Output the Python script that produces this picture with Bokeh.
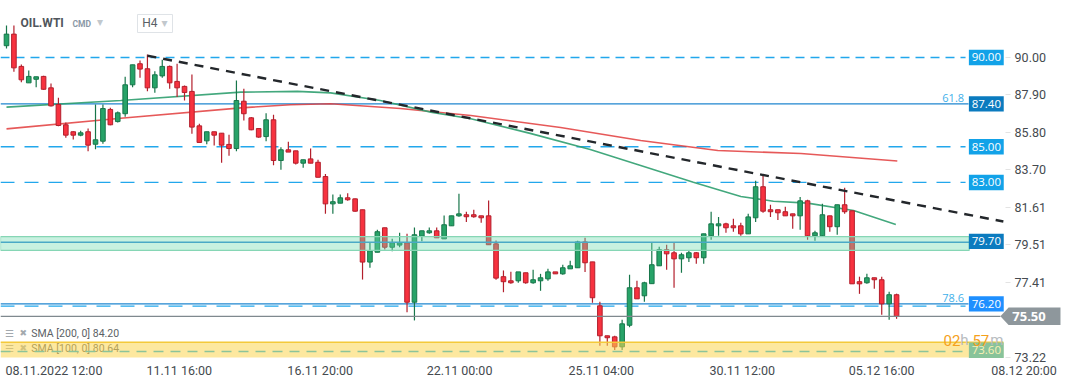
from bokeh.plotting import figure
from bokeh.models import ColumnDataSource, Range1d, FixedTicker, NumeralTickFormatter
from bokeh.embed import file_html
from bokeh.resources import INLINE
from bokeh.core.properties import value

# ---------------- data (OIL.WTI, H4 candles) ----------------
opens = [90.66, 91.31, 89.50, 88.58, 88.78, 88.94, 88.30, 87.37, 86.23, 85.84,
         85.65, 85.84, 85.14, 85.31, 87.09, 86.41, 86.85, 88.47, 89.65, 89.37,
         88.30, 88.97, 89.50, 88.66, 88.38, 88.10, 86.17, 85.33, 85.84, 85.76,
         85.13, 84.90, 87.55, 86.62, 86.02, 85.57, 86.51, 84.23, 84.83, 84.77,
         84.08, 84.32, 84.13, 83.33, 81.80, 81.84, 82.14, 82.08, 81.47, 78.54,
         79.09, 80.46, 79.37, 79.49, 79.62, 76.29, 79.99, 80.18, 80.29, 79.84,
         80.57, 81.13, 81.19, 81.19, 81.13, 81.13, 79.56, 77.72, 77.49, 77.49,
         77.94, 77.38, 77.49, 77.60, 77.99, 77.88, 78.16, 78.22, 79.67, 78.55,
         76.09, 74.41, 74.35, 73.79, 75.00, 77.10, 76.65, 77.33, 78.33, 79.23,
         79.06, 78.72, 78.78, 79.06, 78.78, 80.01, 80.57, 80.68, 80.57, 80.57,
         80.12, 81.02, 82.76, 81.47, 81.47, 81.36, 81.24, 81.13, 81.97, 80.01,
         80.01, 81.13, 80.52, 81.75, 81.41, 77.44, 77.38, 77.66, 77.55, 76.20,
         76.71]
highs = [91.79, 91.79, 89.61, 89.27, 88.92, 88.98, 88.54, 87.74, 86.36, 85.87,
         85.89, 86.02, 87.37, 87.37, 87.18, 86.97, 88.92, 89.59, 89.83, 90.17,
         89.23, 89.87, 89.55, 89.65, 88.43, 89.05, 86.29, 85.84, 85.84, 85.76,
         85.67, 88.71, 88.25, 86.66, 86.05, 86.88, 86.79, 84.97, 85.28, 84.77,
         84.27, 84.90, 84.27, 83.48, 82.33, 82.33, 82.40, 82.10, 81.47, 79.67,
         80.35, 80.46, 79.84, 80.18, 80.12, 80.48, 80.29, 80.48, 80.48, 81.15,
         81.13, 82.36, 81.36, 81.47, 81.13, 81.99, 79.75, 78.07, 78.00, 77.99,
         77.94, 78.11, 77.88, 78.16, 77.99, 78.39, 78.61, 79.73, 79.90, 78.55,
         76.31, 74.41, 74.41, 75.31, 77.83, 77.49, 77.44, 79.62, 79.40, 79.51,
         79.62, 79.06, 79.17, 79.10, 80.12, 81.36, 81.07, 80.74, 80.96, 80.74,
         81.24, 83.09, 83.43, 81.75, 81.47, 81.64, 81.24, 82.19, 82.03, 80.29,
         81.80, 81.13, 81.75, 82.70, 81.41, 77.72, 77.88, 77.66, 77.72, 76.88,
         76.77]
lows = [90.50, 89.20, 88.62, 88.58, 88.34, 88.19, 87.25, 86.15, 85.50, 85.41,
        85.59, 84.75, 84.86, 85.17, 86.20, 86.36, 86.68, 88.34, 88.86, 88.11,
        88.02, 88.86, 88.25, 87.78, 87.59, 85.73, 85.24, 85.14, 85.07, 84.10,
        84.49, 84.75, 86.47, 85.92, 85.50, 85.31, 83.97, 83.71, 84.70, 84.01,
        83.82, 84.08, 83.29, 81.24, 81.24, 81.84, 81.97, 81.36, 77.56, 78.22,
        79.09, 79.24, 79.15, 79.37, 75.73, 75.27, 79.71, 80.12, 79.90, 79.84,
        80.57, 81.08, 80.79, 81.02, 80.74, 79.51, 77.55, 76.85, 77.32, 77.38,
        77.32, 77.32, 76.93, 77.49, 77.88, 77.83, 78.16, 78.22, 77.99, 76.26,
        73.85, 73.85, 73.62, 73.62, 74.89, 76.48, 76.31, 77.33, 78.33, 78.11,
        77.10, 77.94, 78.55, 78.44, 78.44, 79.79, 80.01, 80.18, 80.24, 80.01,
        80.12, 80.79, 81.30, 81.07, 80.90, 81.13, 80.40, 80.35, 79.79, 79.73,
        80.01, 80.24, 80.07, 81.24, 77.32, 76.76, 77.32, 77.04, 75.59, 75.31,
        75.36]
closes = [91.31, 89.42, 88.75, 88.94, 88.92, 88.22, 87.29, 86.19, 85.65, 85.65,
          85.78, 85.09, 85.39, 87.14, 86.23, 86.90, 88.47, 89.59, 89.35, 88.30,
          89.03, 89.50, 88.58, 88.30, 88.04, 86.10, 85.24, 85.84, 85.65, 85.09,
          84.90, 87.59, 86.85, 85.95, 85.54, 86.51, 84.23, 84.83, 84.70, 84.08,
          84.27, 84.08, 83.29, 81.80, 81.92, 82.14, 82.03, 81.39, 78.54, 79.17,
          80.24, 79.37, 79.62, 79.62, 76.29, 80.07, 80.29, 80.29, 79.90, 80.63,
          81.13, 81.24, 81.08, 81.08, 81.02, 79.51, 77.64, 77.44, 77.38, 77.99,
          77.38, 77.55, 77.66, 77.99, 77.88, 78.22, 78.33, 79.67, 78.50, 76.54,
          74.41, 74.30, 73.79, 75.08, 77.10, 76.48, 77.38, 78.39, 79.23, 79.00,
          78.72, 78.95, 79.06, 78.78, 80.12, 80.68, 80.68, 80.46, 80.46, 80.12,
          81.07, 82.76, 81.39, 81.36, 81.30, 81.13, 81.13, 81.97, 80.01, 80.18,
          81.19, 80.52, 81.75, 81.36, 77.32, 77.32, 77.66, 77.55, 76.20, 76.71,
          75.50]

# moving averages (candle index, value)
sma200_x = [0, 15.4, 31.6, 38.3, 43.7, 53.1, 62.6, 74.7, 85.5, 95.9, 107.1, 120.1]
sma200_y = [86.00, 86.60, 87.18, 87.35, 87.41, 87.14, 86.75, 86.08, 85.35, 84.79, 84.62, 84.20]
sma100_x = [0, 15.4, 31.6, 39.2, 43.7, 50.4, 57.2, 62.6, 70.6, 78.7, 85.5, 92.6, 99.0, 103.4, 108.0, 114.2, 119.9]
sma100_y = [87.22, 87.59, 88.06, 88.10, 88.02, 87.59, 86.94, 86.57, 85.75, 84.85, 83.95, 83.01, 82.21, 81.95, 81.84, 81.43, 80.64]

# trend line (candle index, price)
trend_x = [19.0, 134.4]
trend_y = [90.10, 80.81]

# horizontal levels
short_dash_levels = [90.00]
long_dash_levels = [85.00, 83.00, 76.07]
solid_levels = [87.40, 76.20]
tag_values = [90.00, 87.40, 85.00, 83.00, 79.70, 76.20]
tag_texts = ["90.00", "87.40", "85.00", "83.00", "79.70", "76.20"]
tag_colors = ["#12a2e8", "#0b7bbf", "#12a2e8", "#12a2e8", "#0b7bbf", "#1e8fff"]
fib_values = [87.40, 76.20]
fib_texts = ["61.8", "78.6"]
zone_green = [79.20, 79.97]
zone_green_line = 79.65
zone_yellow = [73.19, 74.05]
zone_yellow_line = 73.53
zone_yellow_tag = 73.60
last_price = 75.50
last_price_text = "75.50"

y_ticks = [73.22, 77.41, 79.51, 81.61, 83.70, 85.80, 87.90, 90.00]
x_ticks = [6.6, 23.5, 42.5, 61.3, 80.4, 99.4, 118.2, 137.4]
x_labels = ["08.11.2022  12:00", "11.11  16:00", "16.11  20:00", "22.11  00:00",
            "25.11  04:00", "30.11  12:00", "05.12  16:00", "08.12  20:00"]

legend_texts = ["SMA [200,  0]  84.20", "SMA [100,  0]  80.64"]

# ---------------- figure ----------------
X0, X1 = -0.809, 143.72
Y0, Y1 = 71.793, 93.193
AXIS_X = 134.7          # where the price axis sits
AXIS_Y = 73.19          # where the time axis sits
p = figure(width=1072, height=382, output_backend="svg", toolbar_location=None,
           x_range=Range1d(X0, X1), y_range=Range1d(Y0, Y1), y_axis_location="right")
p.min_border_left = 0
p.min_border_top = 0
p.min_border_right = 0
p.min_border_bottom = 0
p.outline_line_color = None
p.grid.visible = False
p.background_fill_color = "white"
p.border_fill_color = "white"

n = len(opens)
idx = list(range(n))
inc = [c >= o for o, c in zip(opens, closes)]
tops, bots = [], []
for o, c in zip(opens, closes):
    t, b = max(o, c), min(o, c)
    if t - b < 0.09:
        m = (t + b) / 2
        t, b = m + 0.045, m - 0.045
    tops.append(t)
    bots.append(b)
src = ColumnDataSource(dict(
    x=idx, o=opens, h=highs, l=lows, c=closes, top=tops, bot=bots,
    fill=["#27a368" if u else "#f7323f" for u in inc],
    edge=["#17764a" if u else "#b31f2c" for u in inc],
))

LX = X0
# levels (under candles)
for lv in solid_levels:
    p.line([LX, 129.7], [lv, lv], line_color="#1f86cf", line_width=1.4)
for lv in short_dash_levels:
    p.line([LX, 129.3], [lv, lv], line_color="#22a7ec", line_width=1.3, line_dash="9 6")
for lv in long_dash_levels:
    p.line([LX, 129.3], [lv, lv], line_color="#22a7ec", line_width=1.3, line_dash="14 10")

# SMAs
p.line(sma200_x, sma200_y, line_color="#e23c3c", line_width=1.6, line_alpha=0.85)
p.line(sma100_x, sma100_y, line_color="#2f9f6f", line_width=1.6, line_alpha=0.9)

# candles
p.segment(x0="x", y0="l", x1="x", y1="h", source=src, line_color="edge", line_width=1.2)
p.vbar(x="x", top="top", bottom="bot", width=0.62, source=src,
       fill_color="fill", line_color="edge", line_width=1)

# trend line
p.line(trend_x, trend_y, line_color="#23272b", line_width=2.4, line_dash="9 7")

# last price line
p.line([LX, 134.0], [last_price, last_price], line_color="#7f898e", line_width=1.3)

# legend text (under yellow zone)
leg_y = [74.54, 73.70]
p.text(x=[-0.2, -0.2], y=leg_y, text=["\u2630", "\u2630"], text_font=value("DejaVu Sans"),
       text_font_size="10px", text_color="#a3a9ae", text_baseline="middle")
p.text(x=[1.75, 1.75], y=leg_y, text=["\u2716", "\u2716"], text_font=value("DejaVu Sans"),
       text_font_size="9px", text_color="#a3a9ae", text_baseline="middle")
p.text(x=[3.35, 3.35], y=leg_y, text=legend_texts, text_font=value("Roboto"),
       text_font_size="10.5px", text_color="#5b6166", text_baseline="middle")

# green zone
p.quad(left=LX, right=129.8, bottom=zone_green[0], top=zone_green[1],
       fill_color="#6fd9ae", fill_alpha=0.38, line_color="#86d6b5", line_width=1.2)
p.line([LX, 129.8], [zone_green_line, zone_green_line], line_color="#4aa9c6", line_width=1.4)

# yellow zone
p.quad(left=LX, right=134.4, bottom=zone_yellow[0], top=zone_yellow[1],
       fill_color="#fbd650", fill_alpha=0.55, line_color=None)
p.line([LX, 134.4], [zone_yellow[1], zone_yellow[1]], line_color="#f4c93a", line_width=1.4)
p.line([LX, 129.6], [zone_yellow_line, zone_yellow_line], line_color="#8cc49a",
       line_width=1.3, line_dash="10 7")

# price tags
TL, TR, TH = 129.75, 134.45, 0.43
p.quad(left=[TL] * len(tag_values), right=[TR] * len(tag_values),
       bottom=[v - TH for v in tag_values], top=[v + TH for v in tag_values],
       fill_color=tag_colors, line_color=None)
p.text(x=[(TL + TR) / 2] * len(tag_values), y=tag_values, text=tag_texts,
       text_font=value("Open Sans"), text_font_size="11.5px", text_color="white",
       text_align="center", text_baseline="middle")
p.quad(left=[TL], right=[TR], bottom=[zone_yellow_tag - TH], top=[zone_yellow_tag + TH],
       fill_color="#88c39a", line_color=None)
p.text(x=[(TL + TR) / 2], y=[zone_yellow_tag], text=["73.60"], text_font=value("Open Sans"),
       text_font_size="11.5px", text_color="#fbf0b4", text_align="center", text_baseline="middle")

# fib labels
p.text(x=[129.1] * 2, y=[v + 0.33 for v in fib_values], text=fib_texts,
       text_font=value("Open Sans"), text_font_size="11px", text_color="#3fb0ea",
       text_align="right", text_baseline="middle")

# countdown
cd_y = 74.15
p.text(x=[128.6, 132.5], y=[cd_y, cd_y], text=["02", "57"], text_font=value("Roboto"),
       text_font_size="15px", text_color="#f5a11c", text_align="right", text_baseline="middle")
p.text(x=[129.7, 134.4], y=[cd_y, cd_y], text=["h", "m"], text_font=value("Roboto"),
       text_font_size="15px", text_color="#b8bcc0", text_align="right", text_baseline="middle")

# header
p.text(x=[1.9], y=[91.96], text=["OIL.WTI"], text_font=value("Roboto"), text_font_style="bold",
       text_font_size="12px", text_color="#50565c", text_baseline="middle")
p.text(x=[8.9], y=[91.86], text=["CMD"], text_font=value("Roboto"), text_font_style="bold",
       text_font_size="8.5px", text_color="#8a98a6", text_baseline="middle")
p.quad(left=[17.66], right=[22.38], bottom=[91.40], top=[92.41],
       fill_color="white", line_color="#dfe3e7", line_width=1)
p.text(x=[18.3], y=[91.92], text=["H4"], text_font=value("Roboto"),
       text_font_size="12px", text_color="#5a6066", text_baseline="middle")
p.text(x=[12.6, 21.3], y=[92.0, 91.93], text=["\u25be", "\u25be"], text_font=value("DejaVu Sans"),
       text_font_size="12px", text_color="#c2c8cd", text_align="center", text_baseline="middle")

# last price tag (arrow + box)
GH = 0.49
p.patch(x=[134.0, 135.1, 142.1, 142.1, 135.1],
        y=[last_price, last_price + GH, last_price + GH, last_price - GH, last_price - GH],
        fill_color="#8e979c", line_color=None)
p.text(x=[135.6], y=[last_price], text=[last_price_text], text_font=value("Open Sans"),
       text_font_style="bold", text_font_size="13px", text_color="white",
       text_align="left", text_baseline="middle")

# axes
yax = p.yaxis[0]
yax.fixed_location = AXIS_X
yax.ticker = FixedTicker(ticks=y_ticks)
yax.formatter = NumeralTickFormatter(format="0.00")
yax.axis_line_color = None
yax.major_tick_line_color = "#e3e3e3"
yax.major_tick_out = 5
yax.major_tick_in = 0
yax.minor_tick_line_color = None
yax.major_label_standoff = 4
yax.major_label_text_font = "Roboto"
yax.major_label_text_font_size = "12.5px"
yax.major_label_text_color = "#454a4f"

xax = p.xaxis[0]
xax.fixed_location = AXIS_Y
xax.ticker = FixedTicker(ticks=x_ticks)
xax.major_label_overrides = {t: s for t, s in zip(x_ticks, x_labels)}
xax.axis_line_color = None
xax.major_tick_line_color = None
xax.major_tick_out = 0
xax.major_tick_in = 0
xax.minor_tick_line_color = None
xax.minor_tick_out = 0
xax.major_label_standoff = 5
xax.major_label_text_font = "Roboto"
xax.major_label_text_font_size = "12.5px"
xax.major_label_text_color = "#454a4f"

open("out.html", "w").write(file_html(p, INLINE))
